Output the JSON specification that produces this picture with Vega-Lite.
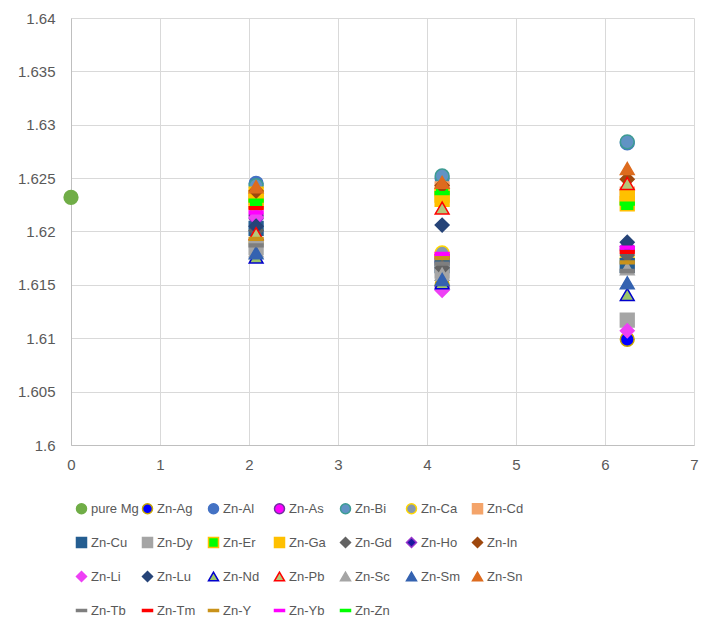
{
  "$schema": "https://vega.github.io/schema/vega-lite/v6.json",
  "width": 623,
  "height": 427,
  "autosize": {"type": "none"},
  "padding": {"left": 71, "top": 18, "right": 8, "bottom": 177},
  "background": "white",
  "data": {"values": [
    {"series": "pure Mg", "x": 0, "y": 1.6232},
    {"series": "Zn-Ag", "x": 2.08, "y": 1.6190}, {"series": "Zn-Ag", "x": 4.17, "y": 1.6150}, {"series": "Zn-Ag", "x": 6.25, "y": 1.6099},
    {"series": "Zn-Al", "x": 2.08, "y": 1.6245}, {"series": "Zn-Al", "x": 4.17, "y": 1.6250}, {"series": "Zn-Al", "x": 6.25, "y": 1.6283},
    {"series": "Zn-As", "x": 2.08, "y": 1.6215}, {"series": "Zn-As", "x": 4.17, "y": 1.6172}, {"series": "Zn-As", "x": 6.25, "y": 1.6183},
    {"series": "Zn-Bi", "x": 2.08, "y": 1.6243}, {"series": "Zn-Bi", "x": 4.17, "y": 1.6252}, {"series": "Zn-Bi", "x": 6.25, "y": 1.6284},
    {"series": "Zn-Ca", "x": 2.08, "y": 1.6225}, {"series": "Zn-Ca", "x": 4.17, "y": 1.6180}, {"series": "Zn-Ca", "x": 6.25, "y": 1.6175},
    {"series": "Zn-Cd", "x": 2.08, "y": 1.6232}, {"series": "Zn-Cd", "x": 4.17, "y": 1.6240}, {"series": "Zn-Cd", "x": 6.25, "y": 1.6235},
    {"series": "Zn-Cu", "x": 2.08, "y": 1.6203}, {"series": "Zn-Cu", "x": 4.17, "y": 1.6168}, {"series": "Zn-Cu", "x": 6.25, "y": 1.6168},
    {"series": "Zn-Dy", "x": 2.08, "y": 1.6185}, {"series": "Zn-Dy", "x": 4.17, "y": 1.6163}, {"series": "Zn-Dy", "x": 6.25, "y": 1.6117},
    {"series": "Zn-Er", "x": 2.08, "y": 1.6228}, {"series": "Zn-Er", "x": 4.17, "y": 1.6234}, {"series": "Zn-Er", "x": 6.25, "y": 1.6226},
    {"series": "Zn-Ga", "x": 2.08, "y": 1.6235}, {"series": "Zn-Ga", "x": 4.17, "y": 1.6230}, {"series": "Zn-Ga", "x": 6.25, "y": 1.6232},
    {"series": "Zn-Gd", "x": 2.08, "y": 1.6201}, {"series": "Zn-Gd", "x": 4.17, "y": 1.6166}, {"series": "Zn-Gd", "x": 6.25, "y": 1.6178},
    {"series": "Zn-Ho", "x": 2.08, "y": 1.6212}, {"series": "Zn-Ho", "x": 4.17, "y": 1.6148}, {"series": "Zn-Ho", "x": 6.25, "y": 1.6186},
    {"series": "Zn-In", "x": 2.08, "y": 1.6238}, {"series": "Zn-In", "x": 4.17, "y": 1.6243}, {"series": "Zn-In", "x": 6.25, "y": 1.6249},
    {"series": "Zn-Li", "x": 2.08, "y": 1.6213}, {"series": "Zn-Li", "x": 4.17, "y": 1.6145}, {"series": "Zn-Li", "x": 6.25, "y": 1.6107},
    {"series": "Zn-Lu", "x": 2.08, "y": 1.6205}, {"series": "Zn-Lu", "x": 4.17, "y": 1.6206}, {"series": "Zn-Lu", "x": 6.25, "y": 1.6190},
    {"series": "Zn-Nd", "x": 2.08, "y": 1.6176}, {"series": "Zn-Nd", "x": 4.17, "y": 1.6152}, {"series": "Zn-Nd", "x": 6.25, "y": 1.6141},
    {"series": "Zn-Pb", "x": 2.08, "y": 1.6198}, {"series": "Zn-Pb", "x": 4.17, "y": 1.6222}, {"series": "Zn-Pb", "x": 6.25, "y": 1.6245},
    {"series": "Zn-Sc", "x": 2.08, "y": 1.6182}, {"series": "Zn-Sc", "x": 4.17, "y": 1.6160}, {"series": "Zn-Sc", "x": 6.25, "y": 1.6165},
    {"series": "Zn-Sm", "x": 2.08, "y": 1.6180}, {"series": "Zn-Sm", "x": 4.17, "y": 1.6155}, {"series": "Zn-Sm", "x": 6.25, "y": 1.6152},
    {"series": "Zn-Sn", "x": 2.08, "y": 1.6242}, {"series": "Zn-Sn", "x": 4.17, "y": 1.6246}, {"series": "Zn-Sn", "x": 6.25, "y": 1.6259},
    {"series": "Zn-Tb", "x": 2.08, "y": 1.6187}, {"series": "Zn-Tb", "x": 4.17, "y": 1.6170}, {"series": "Zn-Tb", "x": 6.25, "y": 1.6163},
    {"series": "Zn-Tm", "x": 2.08, "y": 1.6222}, {"series": "Zn-Tm", "x": 4.17, "y": 1.6177}, {"series": "Zn-Tm", "x": 6.25, "y": 1.6181},
    {"series": "Zn-Y", "x": 2.08, "y": 1.6193}, {"series": "Zn-Y", "x": 4.17, "y": 1.6175}, {"series": "Zn-Y", "x": 6.25, "y": 1.6171},
    {"series": "Zn-Yb", "x": 2.08, "y": 1.6218}, {"series": "Zn-Yb", "x": 4.17, "y": 1.6179}, {"series": "Zn-Yb", "x": 6.25, "y": 1.6185},
    {"series": "Zn-Zn", "x": 2.08, "y": 1.6229}, {"series": "Zn-Zn", "x": 4.17, "y": 1.6236}, {"series": "Zn-Zn", "x": 6.25, "y": 1.6226}
  ]},
  "mark": {"type": "point", "filled": true, "opacity": 1, "size": 190, "strokeWidth": 1.5, "clip": false},
  "encoding": {
    "x": {"field": "x", "type": "quantitative",
      "scale": {"domain": [0, 7], "nice": false, "zero": false},
      "axis": {"title": null, "values": [0, 1, 2, 3, 4, 5, 6, 7], "format": "d", "grid": true, "gridColor": "#D9D9D9", "domainColor": "#BFBFBF", "ticks": false, "labelPadding": 12, "labelFontSize": 15, "labelColor": "#595959", "labelFont": "Liberation Sans", "labelFlush": false}},
    "y": {"field": "y", "type": "quantitative",
      "scale": {"domain": [1.6, 1.64], "nice": false, "zero": false},
      "axis": {"title": null, "values": [1.6, 1.605, 1.61, 1.615, 1.62, 1.625, 1.63, 1.635, 1.64], "format": ".4~f", "grid": true, "gridColor": "#D9D9D9", "domainColor": "#BFBFBF", "ticks": false, "labelPadding": 16, "labelFontSize": 15, "labelColor": "#595959", "labelFont": "Liberation Sans", "labelFlush": false}},
    "fill": {"field": "series", "type": "nominal",
      "scale": {
        "domain": ["pure Mg", "Zn-Ag", "Zn-Al", "Zn-As", "Zn-Bi", "Zn-Ca", "Zn-Cd", "Zn-Cu", "Zn-Dy", "Zn-Er", "Zn-Ga", "Zn-Gd", "Zn-Ho", "Zn-In", "Zn-Li", "Zn-Lu", "Zn-Nd", "Zn-Pb", "Zn-Sc", "Zn-Sm", "Zn-Sn", "Zn-Tb", "Zn-Tm", "Zn-Y", "Zn-Yb", "Zn-Zn"],
        "range": ["#70AD47", "#0000FF", "#4472C4", "#FF00FF", "#6193C4", "#8497B0", "#F4A46A", "#255E91", "#A5A5A5", "#00FF00", "#FFC000", "#636363", "#1A1AA0", "#9E480E", "#EE40F5", "#264478", "#9CC46A", "#B5C77A", "#A5A5A5", "#3462B0", "#DD6B1E", "#7F7F7F", "#FF0000", "#C9921A", "#FF00FF", "#00FF00"]},
      "legend": {"title": null, "orient": "none", "legendX": 4, "legendY": 484, "columns": 7, "direction": "horizontal", "gridAlign": "all", "columnPadding": 0, "rowPadding": 17, "symbolSize": 100, "symbolStrokeWidth": 1.5, "labelFont": "Liberation Sans", "labelFontSize": 13, "labelColor": "#595959", "labelOffset": 3, "padding": 0, "symbolLimit": 50}},
    "stroke": {"field": "series", "type": "nominal",
      "scale": {
        "domain": ["pure Mg", "Zn-Ag", "Zn-Al", "Zn-As", "Zn-Bi", "Zn-Ca", "Zn-Cd", "Zn-Cu", "Zn-Dy", "Zn-Er", "Zn-Ga", "Zn-Gd", "Zn-Ho", "Zn-In", "Zn-Li", "Zn-Lu", "Zn-Nd", "Zn-Pb", "Zn-Sc", "Zn-Sm", "Zn-Sn", "Zn-Tb", "Zn-Tm", "Zn-Y", "Zn-Yb", "Zn-Zn"],
        "range": ["#70AD47", "#C8A800", "#4472C4", "#7030A0", "#3D9C93", "#FFD700", "#F4A46A", "#255E91", "#A5A5A5", "#FFC000", "#FFC000", "#636363", "#9933CC", "#9E480E", "#EE40F5", "#264478", "#0000CC", "#FF0000", "#A5A5A5", "#3462B0", "#DD6B1E", "#7F7F7F", "#FF0000", "#C9921A", "#FF00FF", "#00FF00"]},
      "legend": {"title": null, "orient": "none", "legendX": 4, "legendY": 484, "columns": 7, "direction": "horizontal", "gridAlign": "all", "columnPadding": 0, "rowPadding": 17, "symbolSize": 100, "symbolStrokeWidth": 1.5, "labelFont": "Liberation Sans", "labelFontSize": 13, "labelColor": "#595959", "labelOffset": 3, "padding": 0, "symbolLimit": 50}},
    "shape": {"field": "series", "type": "nominal",
      "scale": {
        "domain": ["pure Mg", "Zn-Ag", "Zn-Al", "Zn-As", "Zn-Bi", "Zn-Ca", "Zn-Cd", "Zn-Cu", "Zn-Dy", "Zn-Er", "Zn-Ga", "Zn-Gd", "Zn-Ho", "Zn-In", "Zn-Li", "Zn-Lu", "Zn-Nd", "Zn-Pb", "Zn-Sc", "Zn-Sm", "Zn-Sn", "Zn-Tb", "Zn-Tm", "Zn-Y", "Zn-Yb", "Zn-Zn"],
        "range": ["circle", "circle", "circle", "circle", "circle", "circle", "square", "square", "square", "square", "square", "diamond", "diamond", "diamond", "diamond", "diamond", "triangle-up", "triangle-up", "triangle-up", "triangle-up", "triangle-up", "M-1,-0.2H1V0.2H-1Z", "M-1,-0.2H1V0.2H-1Z", "M-1,-0.2H1V0.2H-1Z", "M-1,-0.2H1V0.2H-1Z", "M-1,-0.2H1V0.2H-1Z"]},
      "legend": {"title": null, "orient": "none", "legendX": 4, "legendY": 484, "columns": 7, "direction": "horizontal", "gridAlign": "all", "columnPadding": 0, "rowPadding": 17, "symbolSize": 100, "symbolStrokeWidth": 1.5, "labelFont": "Liberation Sans", "labelFontSize": 13, "labelColor": "#595959", "labelOffset": 3, "padding": 0, "symbolLimit": 50}}
  },
  "config": {"view": {"stroke": null}}
}
